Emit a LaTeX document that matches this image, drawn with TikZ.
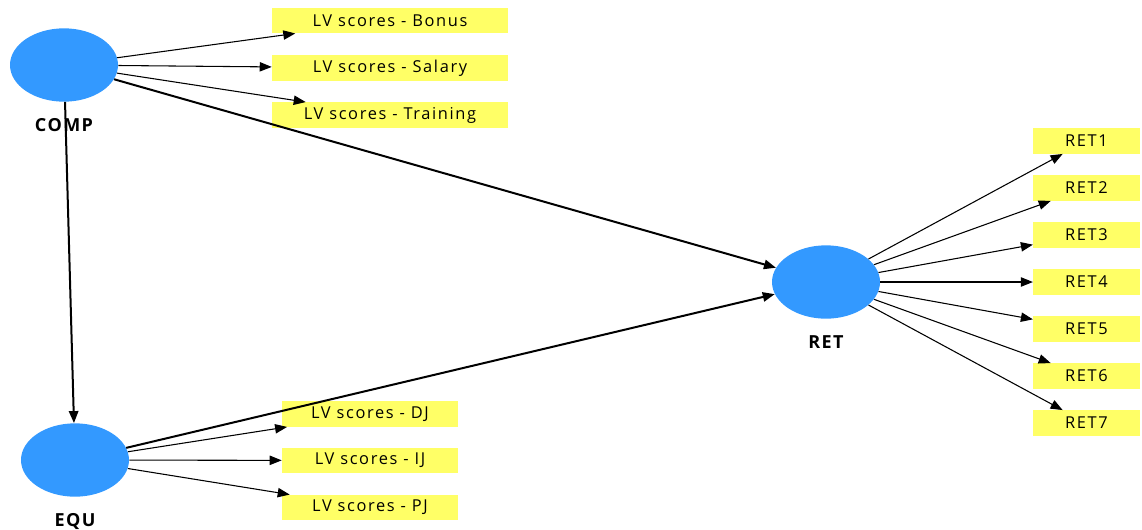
\documentclass[tikz,border=0pt]{standalone}
\usepackage{fontspec}
\newfontfamily\boxfont[LetterSpace=10]{Open Sans}
\newfontfamily\labelfont[LetterSpace=8]{Open Sans}
\usetikzlibrary{arrows.meta,positioning,shapes.geometric}
\definecolor{latentblue}{RGB}{51,153,255}
\definecolor{indyellow}{RGB}{255,255,102}
\tikzset{
    construct/.style={ellipse,fill=latentblue,draw=none,minimum width=81pt,minimum height=55pt,inner sep=0pt},
    conlabel/.style={font=\labelfont\bfseries\fontsize{13.5}{15}\selectfont,inner sep=0pt},
    indicator/.style={fill=indyellow,draw=none,minimum height=19pt,inner sep=0pt,font=\boxfont\fontsize{12.3}{14}\selectfont},
    lvbox/.style={indicator,minimum width=177pt},
    jbox/.style={indicator,minimum width=132pt},
    retbox/.style={indicator,minimum width=80pt},
    loading/.style={-{Triangle[length=9pt,width=7pt]},line width=0.8pt},
    pathcoef/.style={-{Triangle[length=9pt,width=7pt]},line width=1.5pt}
}
\begin{document}
\begin{tikzpicture}[x=0.75pt,y=-0.75pt]
    \useasboundingbox (0,0) rectangle (1142,529);
    % Constructs
    \node[construct] (comp) at (64,65) {};
    \node[conlabel,below=12pt of comp] (complbl) {COMP};
    \node[construct] (equ) at (75,460) {};
    \node[conlabel,below=12pt of equ] (equlbl) {EQU};
    \node[construct] (ret) at (826,282) {};
    \node[conlabel,below=12pt of ret] (retlbl) {RET};
    % Indicators of COMP
    \node[lvbox] (bonus) at (390,20.5) {LV scores - Bonus};
    \node[lvbox] (salary) at (390,68) {LV scores - Salary};
    \node[lvbox] (training) at (390,115) {LV scores - Training};
    % Indicators of EQU
    \node[jbox] (dj) at (370,414) {LV scores - DJ};
    \node[jbox] (ij) at (370,460.5) {LV scores - IJ};
    \node[jbox] (pj) at (370,507.5) {LV scores - PJ};
    % Indicators of RET
    \foreach \i in {1,...,7}
        \node[retbox] (ret\i) at (1086.5,{141+47*(\i-1)}) {RET\i};
    % Loadings
    \draw[loading] (comp) -- (bonus);
    \draw[loading] (comp) -- (salary);
    \draw[loading] (comp) -- (training);
    \draw[loading] (equ) -- (dj);
    \draw[loading] (equ) -- (ij);
    \draw[loading] (equ) -- (pj);
    \foreach \i in {1,...,7}
        \draw[loading] (ret) -- (ret\i);
    % Paths
    \draw[pathcoef] (comp) -- (ret);
    \draw[pathcoef] (comp) -- (equ);
    \draw[pathcoef] (equ) -- (ret);
\end{tikzpicture}
\end{document}
